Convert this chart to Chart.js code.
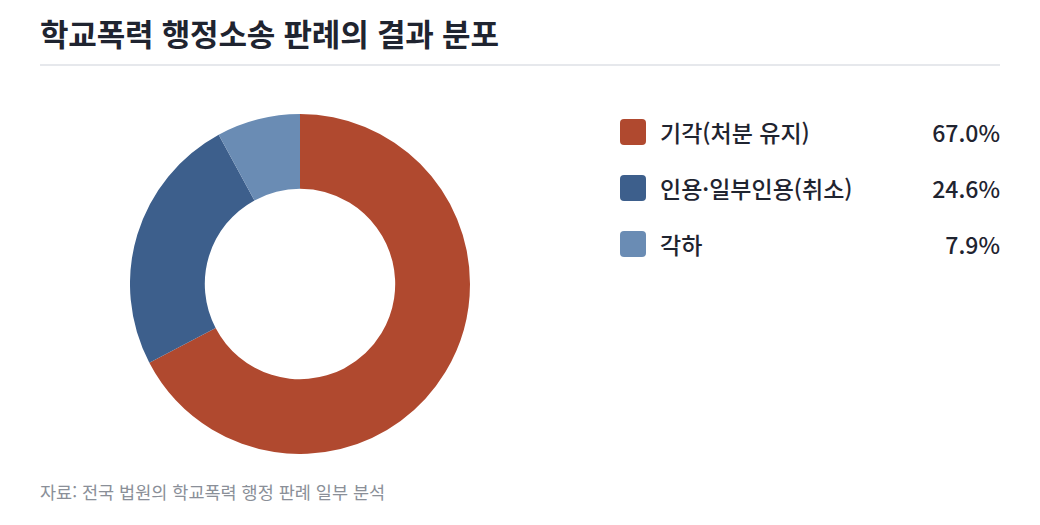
<!DOCTYPE html>
<html lang="ko">
<head>
<meta charset="utf-8">
<script src="https://cdn.jsdelivr.net/npm/chart.js@4"></script>
<style>
  html, body { margin: 0; padding: 0; background: #fff; }
  body { width: 1040px; height: 525px; position: relative; font-family: "Noto Sans CJK KR", "Noto Sans", sans-serif; color: #1f2430; }
  h1 { position: absolute; left: 40px; top: 10px; margin: 0; font-size: 31px; line-height: 46px; font-weight: 700; letter-spacing: -0.2px; }
  .rule { position: absolute; left: 40px; top: 64px; width: 960px; height: 2px; background: #e6e8ec; }
  #wrap { position: absolute; left: 130px; top: 114px; width: 340px; height: 340px; }
  .legend { position: absolute; left: 620px; top: 104px; width: 380px; }
  .row { display: flex; align-items: center; height: 56px; font-size: 23px; font-weight: 500; }
  .sw { width: 26px; height: 26px; border-radius: 4px; margin-right: 14px; }
  .lab { flex: 1; }
  .val { text-align: right; }
  .src { position: absolute; left: 40px; top: 479px; font-size: 17.5px; color: #8a8f98; }
</style>
</head>
<body>
<h1>학교폭력 행정소송 판례의 결과 분포</h1>
<div class="rule"></div>
<div id="wrap"><canvas id="donut"></canvas></div>
<div class="legend" id="legend"></div>
<div class="src">자료: 전국 법원의 학교폭력 행정 판례 일부 분석</div>
<script>
const labels = ['기각(처분 유지)', '인용·일부인용(취소)', '각하'];
const values = [67.0, 24.6, 7.9];
const colors = ['#b0492f', '#3d5f8c', '#6a8cb4'];

const data = {
    labels: labels,
    datasets: [{
        data: values,
        backgroundColor: colors,
        borderWidth: 0
    }]
};

new Chart(document.getElementById('donut'), {
    type: 'doughnut',
    data: data,
    options: {
        responsive: true,
        maintainAspectRatio: false,
        animation: false,
        cutout: '56%',
        layout: { padding: 0 },
        plugins: {
            legend: { display: false },
            tooltip: { enabled: false }
        }
    }
});

const legend = document.getElementById('legend');
labels.forEach((l, i) => {
    const row = document.createElement('div');
    row.className = 'row';
    row.innerHTML = '<div class="sw" style="background:' + colors[i] + '"></div>' +
        '<div class="lab">' + l + '</div><div class="val">' + values[i].toFixed(1) + '%</div>';
    legend.appendChild(row);
});
</script>
</body>
</html>
